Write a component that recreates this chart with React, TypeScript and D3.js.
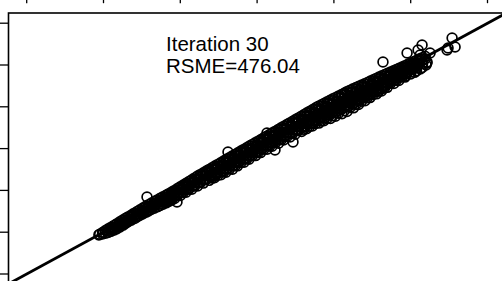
import React from 'react';
import * as d3 from 'd3';

const W = 502;
const H = 281;

const tickValues = [2000, 4000, 6000, 8000, 10000, 12000, 14000];
const titleLines = ['Iteration 30', 'RSME=476.04'];

// [observed, predicted]
const lowerBand: [number, number][] = [
  [3880,3870],[3900,3900],[4000,3990],
  [4050,4080],[4050,3950],
  [4200,4240],[4210,4150],[4190,4040],
  [4350,4410],[4360,4300],[4340,4160],
  [4500,4580],[4490,4460],[4510,4330],
  [4650,4745],[4660,4620],[4640,4500],
  [4800,4910],[4790,4780],[4810,4655],
  [4950,5075],[4960,4950],[4940,4805],
  [5100,5240],[5090,5090],[5110,4955],
  [5250,5395],[5260,5260],[5240,5090],
  [5400,5545],[5390,5390],[5410,5220],
  [5550,5695],[5560,5560],[5540,5440],[5550,5340],
  [5700,5845],[5690,5700],[5710,5600],[5700,5470],
  [5850,6000],[5860,5870],[5840,5740],[5850,5610],
  [6000,6170],[6010,6030],[5990,5900],[6000,5760],
];

const middleBand: [number, number][] = [
  [6150,6340],[6160,6190],[6140,6050],[6150,5910],
  [6300,6510],[6290,6350],[6310,6210],[6300,6060],
  [6450,6685],[6460,6540],[6440,6380],[6450,6210],
  [6600,6845],[6590,6700],[6610,6540],[6600,6350],
  [6750,7005],[6760,6850],[6740,6690],[6750,6480],
  [6900,7165],[6890,7010],[6910,6850],[6900,6710],[6890,6610],
  [7050,7325],[7060,7170],[7040,7020],[7050,6870],[7060,6750],
  [7200,7485],[7190,7320],[7210,7190],[7200,7030],[7190,6870],
  [7350,7640],[7360,7490],[7340,7330],[7350,7170],[7360,7015],
  [7500,7800],[7490,7640],[7510,7510],[7500,7340],[7490,7175],
  [7650,7960],[7660,7810],[7640,7640],[7650,7500],[7660,7345],
  [7800,8120],[7790,7960],[7810,7820],[7800,7650],[7790,7495],
  [7950,8280],[7960,8120],[7940,7950],[7950,7810],[7960,7665],
  [8100,8435],[8090,8270],[8110,8130],[8100,7970],[8090,7810],
  [8250,8595],[8260,8440],[8240,8270],[8250,8120],[8260,7970],
  [8400,8755],[8390,8590],[8410,8450],[8400,8280],[8390,8110],
  [8550,8915],[8560,8760],[8540,8580],[8550,8430],[8560,8260],
  [8700,9075],[8690,8910],[8710,8760],[8700,8580],[8690,8410],
  [8850,9230],[8860,9070],[8840,8900],[8850,8740],[8860,8560],
  [9000,9390],[8990,9220],[9010,9060],[9000,8880],[8990,8690],
];

const upperBand: [number, number][] = [
  [9150,9550],[9160,9390],[9140,9210],[9150,9030],[9160,8820],
  [9300,9710],[9290,9550],[9310,9370],[9300,9190],[9290,8950],
  [9450,9870],[9460,9710],[9440,9530],[9450,9350],[9460,9210],[9440,9085],
  [9600,10030],[9590,9860],[9610,9680],[9600,9500],[9590,9350],[9610,9220],
  [9750,10170],[9760,10010],[9740,9820],[9750,9650],[9760,9480],[9740,9330],
  [9900,10310],[9890,10140],[9910,9960],[9900,9780],[9890,9610],[9910,9440],
  [10050,10450],[10060,10280],[10040,10100],[10050,9920],[10060,9740],[10040,9550],
  [10200,10590],[10190,10420],[10210,10250],[10200,10060],[10190,9870],[10210,9670],
  [10350,10735],[10360,10560],[10340,10380],[10350,10200],[10360,10010],[10340,9780],
  [10500,10860],[10490,10690],[10510,10520],[10500,10330],[10490,10130],[10510,9950],
  [10650,10980],[10660,10820],[10640,10630],[10650,10470],[10660,10300],[10640,10110],
  [10800,11100],[10790,10930],[10810,10770],[10800,10600],[10790,10430],[10810,10290],
  [10950,11230],[10960,11060],[10940,10880],[10950,10730],[10960,10600],[10940,10440],
  [11100,11360],[11090,11190],[11110,11030],[11100,10860],[11090,10720],[11110,10620],
  [11250,11480],[11260,11320],[11240,11150],[11250,11000],[11260,10880],[11240,10760],
  [11400,11600],[11390,11430],[11410,11300],[11400,11130],[11390,10930],
  [11550,11720],[11560,11580],[11540,11410],[11550,11260],[11560,11115],
  [11700,11845],[11690,11690],[11710,11560],[11700,11400],[11690,11260],
  [11850,11970],[11860,11840],[11840,11680],[11850,11560],[11860,11470],
  [12000,12090],[11990,11950],[12010,11830],[12000,11670],
  [12150,12220],[12160,12100],[12140,11960],[12150,11870],
  [12300,12350],[12290,12210],[12310,12070],
];

const denseBand: [number, number][] = [
  [3975,3985],[3975,3915],
  [4125,4160],[4130,4080],[4120,3990],
  [4275,4325],[4280,4215],[4270,4100],
  [4425,4495],[4430,4380],[4420,4245],
  [4575,4663],[4580,4540],[4570,4415],
  [4725,4825],[4730,4705],[4720,4577],
  [4875,4993],[4880,4870],[4870,4730],
  [5025,5157],[5030,5030],[5020,4875],
  [5175,5317],[5180,5175],[5170,5018],
  [5325,5470],[5330,5315],[5320,5150],
  [5475,5620],[5480,5540],[5470,5445],[5475,5275],
  [5625,5770],[5630,5690],[5620,5570],[5625,5465],[5630,5405],
  [5775,5923],[5780,5850],[5770,5725],[5775,5605],[5780,5545],
  [5925,6085],[5930,6020],[5920,5880],[5925,5755],
  [6075,6255],[6080,6185],[6070,6040],[6075,5905],
  [6225,6425],[6230,6355],[6220,6205],[6225,6060],
  [6375,6597],[6380,6525],[6370,6360],[6375,6215],
  [6525,6765],[6530,6700],[6520,6535],[6525,6375],
  [6675,6925],[6680,6855],[6670,6690],[6675,6525],
  [6825,7085],[6830,7015],[6820,6850],[6825,6705],[6830,6590],
  [6975,7245],[6980,7170],[6970,7010],[6975,6865],[6980,6730],
  [7125,7405],[7130,7330],[7120,7170],[7125,7025],[7130,6880],
  [7275,7563],[7280,7495],[7270,7330],[7275,7175],[7280,7020],
  [7425,7720],[7430,7655],[7420,7490],[7425,7335],[7430,7180],
  [7575,7880],[7580,7810],[7570,7650],[7575,7495],[7580,7340],
  [7725,8040],[7730,7970],[7720,7810],[7725,7655],[7730,7500],
  [7875,8200],[7880,8130],[7870,7960],[7875,7815],[7880,7660],
  [8025,8357],[8030,8285],[8020,8120],[8025,7975],[8030,7820],
  [8175,8515],[8180,8445],[8170,8280],[8175,8125],[8180,7970],
  [8325,8675],[8330,8605],[8320,8440],[8325,8285],[8330,8130],
  [8475,8835],[8480,8765],[8470,8595],[8475,8435],[8480,8280],
  [8625,8995],[8630,8925],[8620,8755],[8625,8590],[8630,8430],
  [8775,9153],[8780,9080],[8770,8910],[8775,8745],[8780,8580],
  [8925,9310],[8930,9235],[8920,9065],[8925,8895],[8930,8730],
  [9075,9470],[9080,9395],[9070,9220],[9075,9045],[9080,8870],
  [9225,9630],[9230,9555],[9220,9380],[9225,9205],[9230,9030],[9220,8920],
  [9375,9790],[9380,9715],[9370,9535],[9375,9360],[9380,9200],[9370,9075],
  [9525,9950],[9530,9870],[9520,9690],[9525,9515],[9530,9360],[9520,9200],
  [9675,10100],[9680,10015],[9670,9835],[9675,9660],[9680,9500],[9670,9325],
  [9825,10240],[9830,10155],[9820,9975],[9825,9795],[9830,9630],[9820,9445],
  [9975,10380],[9980,10295],[9970,10115],[9975,9935],[9980,9760],[9970,9575],
  [10125,10520],[10130,10435],[10120,10255],[10125,10075],[10130,9890],[10120,9690],
  [10275,10663],[10280,10580],[10270,10390],[10275,10215],[10280,10030],[10270,9810],
  [10425,10797],[10430,10710],[10420,10520],[10425,10345],[10430,10170],[10420,9965],
  [10575,10920],[10580,10840],[10570,10650],[10575,10485],[10580,10310],[10570,10110],
  [10725,11040],[10730,10960],[10720,10770],[10725,10615],[10730,10450],[10720,10270],
  [10875,11165],[10880,11080],[10870,10900],[10875,10745],[10880,10590],[10870,10430],
  [11025,11295],[11030,11210],[11020,11030],[11025,10875],[11030,10730],[11020,10590],
  [11175,11420],[11180,11340],[11170,11160],[11175,11015],[11180,10870],[11170,10745],
  [11325,11540],[11330,11460],[11320,11300],[11325,11145],[11330,11010],[11320,10905],
  [11475,11660],[11480,11580],[11470,11430],[11475,11275],[11480,11130],
  [11625,11783],[11630,11710],[11620,11550],[11625,11405],[11630,11270],
  [11775,11907],[11780,11840],[11770,11680],[11775,11545],[11780,11440],
  [11925,12030],[11930,11960],[11920,11810],[11925,11675],
  [12075,12155],[12080,12080],[12070,11950],[12075,11845],
  [12225,12285],[12230,12200],[12220,12070],
  [12375,12415],[12380,12300],
];

const coreBand: [number, number][] = [
  [4250,4240],[4250,4140],[4400,4390],[4400,4280],[4550,4565],[4550,4445],
  [4700,4735],[4700,4610],[4850,4895],[4850,4770],[5000,5055],[5000,4925],
  [5150,5220],[5150,5080],[5300,5370],[5300,5215],[5450,5510],[5450,5345],
  [5600,5655],[5600,5480],[5750,5800],[5750,5615],[5900,5955],[5900,5755],
  [6050,6120],[6050,5910],[6200,6280],[6200,6070],[6350,6445],[6350,6225],
  [6500,6620],[6500,6380],[6650,6775],[6650,6525],[6800,6925],[6800,6660],
  [6950,7080],[6950,6795],[7100,7230],[7100,6935],[7250,7380],[7250,7075],
  [7400,7535],[7400,7220],[7550,7695],[7550,7380],[7700,7855],[7700,7545],
  [7850,8015],[7850,7700],[8000,8175],[8000,7860],[8150,8330],[8150,8015],
  [8300,8485],[8300,8170],[8450,8645],[8450,8320],[8600,8800],[8600,8475],
  [8750,8960],[8750,8625],[8900,9110],[8900,8780],[9050,9265],[9050,8915],
  [9200,9420],[9200,9050],[9350,9570],[9350,9190],[9500,9725],[9500,9330],
  [9650,9880],[9650,9470],
  [9800,10010],[9800,9800],[9800,9590],
  [9950,10140],[9950,9925],[9950,9710],
  [10100,10275],[10100,10050],[10100,9825],
  [10250,10410],[10250,10175],[10250,9940],
  [10400,10545],[10400,10308],[10400,10070],
  [10550,10680],[10550,10450],[10550,10220],
  [10700,10810],[10700,10595],[10700,10380],
  [10850,10945],[10850,10740],[10850,10535],
  [11000,11085],[11000,10890],[11000,10695],
  [11150,11225],[11150,11035],[11150,10850],
  [11300,11355],[11300,11175],[11300,11000],
  [11450,11485],[11450,11320],[11450,11155],
  [11600,11615],[11600,11462],[11600,11310],
  [11750,11750],[11750,11608],[11750,11465],
  [11900,11895],[11900,11770],[11900,11645],
  [12050,12035],[12050,11930],[12050,11825],
  [12200,12180],[12200,12010],
];

const bandTail: [number, number][] = [
  [11850,11420],[12000,11570],[12100,11650],[12150,11720],
  [12250,11810],[12300,11880],[12400,12000],[12420,12090],
];

const outliers: [number, number][] = [
  [5133,5684],[5914,5445],[7242,7838],[8257,8747],[8466,7933],[8935,8316],
  [11278,12144],[11906,12575],[12192,12718],[12296,12958],[12426,12144],
  [12504,12575],[12244,12479],[12947,12718],[13078,13293],[13156,12862],[12973,12814],
];

export default function App() {
  const x = d3.scaleLinear().domain([2000, 14000]).range([26.7, 487.5]);
  const y = d3.scaleLinear().domain([2000, 14000]).range([274, 23.2]);
  const box = { left: 8.5, top: 13, right: 515, bottom: 292 };
  const lo = x.invert(box.left);
  const hi = x.invert(box.right);
  const points = [...lowerBand, ...middleBand, ...upperBand, ...denseBand, ...coreBand, ...bandTail, ...outliers];
  const linePath = d3.line<[number, number]>()
    .x(d => x(d[0]))
    .y(d => y(d[1]))([[lo, lo], [hi, hi]]);
  const font = "'Liberation Sans', Arial, sans-serif";

  return (
    <svg width={W} height={H} style={{ position: 'absolute', left: 0, top: 0, background: '#fff' }}>
      <defs>
        <clipPath id="plotClip">
          <rect x={box.left} y={box.top} width={box.right - box.left} height={box.bottom - box.top} />
        </clipPath>
      </defs>
      <rect x={0} y={0} width={W} height={H} fill="#fff" />
      {tickValues.map(t => (
        <line key={'tx' + t} x1={x(t)} x2={x(t)} y1={0} y2={3.2} stroke="#000" strokeWidth={1.3} />
      ))}
      {tickValues.map(t => (
        <line key={'ty' + t} x1={0} x2={box.left} y1={y(t)} y2={y(t)} stroke="#000" strokeWidth={1.3} />
      ))}
      <g clipPath="url(#plotClip)">
        {points.map((p, i) => (
          <circle key={i} cx={x(p[0])} cy={y(p[1])} r={4.9} fill="none" stroke="#000" strokeWidth={1.7} />
        ))}
        <path d={linePath || ''} stroke="#000" strokeWidth={2.8} fill="none" />
      </g>
      <rect x={box.left} y={box.top} width={box.right - box.left} height={box.bottom - box.top}
        fill="none" stroke="#000" strokeWidth={1.6} />
      <text x={166} y={51} fontFamily={font} fontSize={20.5} fill="#000">{titleLines[0]}</text>
      <text x={166} y={72.5} fontFamily={font} fontSize={20.5} fill="#000">{titleLines[1]}</text>
    </svg>
  );
}
